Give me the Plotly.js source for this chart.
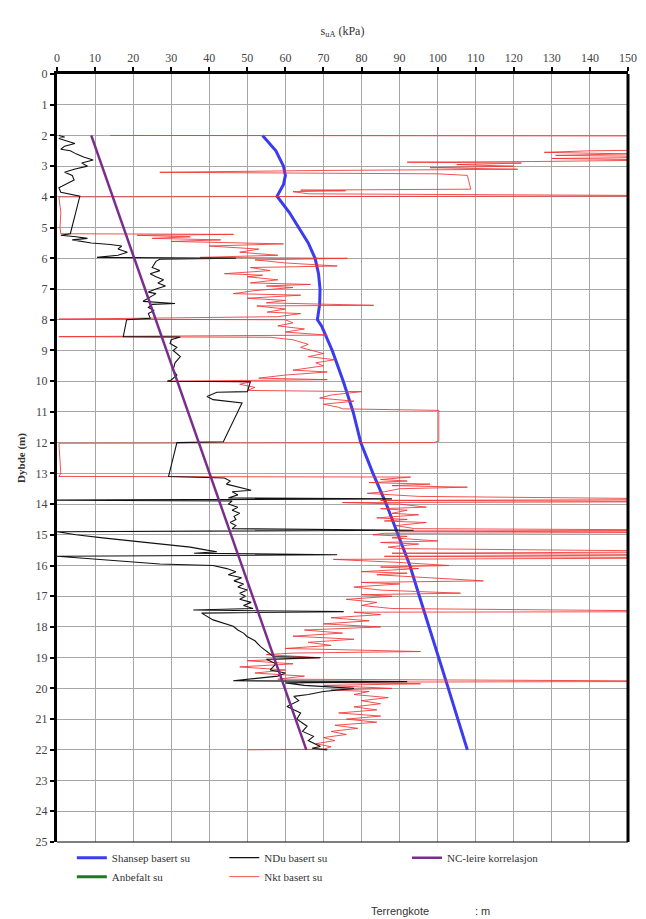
<!DOCTYPE html>
<html>
<head>
<meta charset="utf-8">
<script src="https://cdn.plot.ly/plotly-3.0.1.min.js"></script>
<style>html,body{margin:0;padding:0;background:#fff;}#chart{width:646px;height:919px;}</style>
</head>
<body>
<div id="chart"></div>
<script>
// SHANSEP based su (blue)
const shansepDepth = [2,2.5,3,3.3,3.6,3.98,4.5,5,5.5,6,6.5,7,7.5,8,8.2,9,10,11,12,13,14,15,16,17,18,19,20,21,22];
const shansepSu    = [54,57.5,59.5,60,59.5,57.8,61,63.5,66,67.8,68.7,69.1,69,68.4,69.5,72.3,75.2,77.8,79.8,83,86.5,89.6,92.7,95.2,97.8,100.3,102.8,105.3,107.8];

// NC-leire korrelasjon (purple)
const ncDepth = [2,22];
const ncSu    = [9,65.5];

// Anbefalt su (green) - no values drawn in the reference
const anbefaltDepth = [null];
const anbefaltSu    = [null];

// NDu based su (black)
const nduDepth = [2.0,2.05,2.1,2.2,2.26,2.35,2.45,2.5,2.6,2.7,2.8,2.85,2.9,3.0,3.1,3.2,3.3,3.45,3.6,3.7,3.85,3.98,5.2,5.25,5.3,5.35,5.4,5.5,5.55,5.6,5.7,5.8,5.9,5.97,6.0,6.03,6.1,6.3,6.4,6.5,6.6,6.7,6.8,6.9,7.0,7.1,7.15,7.3,7.4,7.47,7.5,7.6,7.7,7.8,7.95,8.0,8.55,8.56,8.65,8.77,8.9,9.0,9.2,9.4,9.64,9.8,9.96,10.0,10.02,10.34,10.36,10.5,10.6,10.71,11.97,12.0,13.1,13.15,13.25,13.35,13.45,13.55,13.6,13.7,13.8,13.83,13.87,13.9,14.0,14.1,14.2,14.3,14.4,14.5,14.6,14.7,14.8,14.85,14.9,15.0,15.1,15.2,15.3,15.4,15.5,15.55,15.6,15.65,15.7,15.8,15.9,15.95,16.0,16.1,16.2,16.3,16.4,16.5,16.6,16.7,16.8,16.9,17.0,17.1,17.2,17.3,17.4,17.45,17.5,17.55,17.77,17.9,17.98,18.1,18.2,18.31,18.45,18.63,18.8,18.96,19.0,19.05,19.2,19.4,19.5,19.6,19.75,19.78,19.82,19.9,20.0,20.1,20.2,20.26,20.4,20.59,20.8,21.0,21.23,21.4,21.56,21.7,21.89,21.95,22.0];
const nduSu    = [0.5,2,0.5,3,4.7,2,1,3.5,5,7,9.5,8,6.5,8,4.5,2,4,4.5,2,0.5,1,6,3.5,1,5,8,4,9,14,17,16,18.5,16,10.5,47,27,26,25,27,24.5,26,28,26.5,28.5,26,24,26,24,22.6,31,25,24,25.5,24,24.5,18.3,17.4,32.4,30,29.7,31.5,30.5,32.4,31,30.5,31.5,30,29,50.8,50,42,39.4,41,48.6,43.7,31.5,29.3,44,45.5,44.5,48,51,46,47.5,45,88,0,46,45,47.5,46,48,46.5,47,45.5,47,46,93.7,0,5,12,20,27,35,39.4,42,36,73.6,0,10,21,27,41,44.6,47,45,48.5,46.5,49,47.5,50,48,49.5,48,51,49,51.5,35.8,75.3,38,41,44,46.3,47.5,49,49.9,52,53.4,55,56.8,69.2,55,57.5,56,60,58,46.3,92,60,65,78,70,66,62.2,63.5,60.4,64,63,65.7,64.5,67.4,66,69.2,67,71];

// Nkt based su (red)
const nktDepth = [2.0,2.02,2.45,2.5,2.55,2.6,2.65,2.7,2.75,2.8,2.85,2.87,2.9,2.95,3.0,3.05,3.1,3.14,3.2,3.25,3.3,3.75,3.78,3.8,3.83,3.9,3.97,4.0,4.5,5.0,5.2,5.22,5.25,5.3,5.35,5.4,5.45,5.5,5.53,5.6,5.7,5.8,5.9,5.97,6.0,6.05,6.15,6.25,6.3,6.4,6.5,6.55,6.6,6.7,6.8,6.85,6.9,6.95,7.05,7.15,7.2,7.3,7.37,7.45,7.53,7.55,7.65,7.75,7.8,7.9,7.98,8.0,8.1,8.2,8.3,8.4,8.5,8.55,8.57,8.65,8.8,8.9,9.0,9.1,9.2,9.3,9.4,9.5,9.64,9.7,9.8,9.9,9.95,10.0,10.02,10.1,10.2,10.3,10.34,10.45,10.55,10.65,10.75,10.85,10.9,10.95,11.95,12.0,12.02,13.0,13.1,13.12,13.2,13.25,13.3,13.35,13.4,13.45,13.5,13.6,13.65,13.75,13.85,13.88,13.92,13.95,14.0,14.1,14.15,14.2,14.3,14.35,14.45,14.5,14.55,14.6,14.7,14.8,14.85,14.88,14.92,14.95,15.0,15.05,15.1,15.2,15.25,15.3,15.4,15.45,15.55,15.6,15.65,15.7,15.72,15.75,15.8,15.9,16.0,16.05,16.1,16.2,16.25,16.3,16.4,16.5,16.55,16.6,16.7,16.8,16.9,16.95,17.0,17.1,17.2,17.3,17.4,17.5,17.52,17.6,17.7,17.8,17.9,18.0,18.1,18.2,18.3,18.4,18.5,18.6,18.7,18.8,18.85,18.9,19.0,19.1,19.2,19.3,19.4,19.5,19.6,19.7,19.77,19.8,19.85,19.9,20.0,20.05,20.1,20.2,20.3,20.4,20.5,20.6,20.7,20.8,20.9,21.0,21.1,21.2,21.3,21.4,21.5,21.6,21.7,21.8,21.9,21.98,22.0];
const nktSu    = [14,180,175,140,128,150,131,170,130,160,125,92,122,105,120,98,121,70,27,100,107.8,108.7,64,75.8,62,66,180,0.5,1,0.8,1,46.4,21,35,25,43,30,50.8,59.5,40,53,48,58,37.6,76.3,52,60,73.6,50.8,56,44,54,50,58,50.8,66.6,55,62,52,46.3,64,50,60,55,83.2,52.5,60,55.2,64,58,0.5,60,62,58,65,60,71,0.5,56,62,66,64,67,70,66,73,68,70,62,71,60,53,71,29,50.8,48,52,50,80,72,69,78,70,74,75,100.3,100.3,99,0.5,1,0.5,92.9,85,92,82,98,88,107.8,90,86,81.5,95,180,85,180,75,90,97,85,92,88,95,84,92,86,97,89,94,180,90,180,86,83,92,88,100,85,95,87,90,180,88,180,86,116.6,180,72.6,90,103,85,95,80,92,84,98,112,80,90,78,85,106,80,88,76,84,80,88,180,78,85,72,82,70,85,65,75,62,78,66,72,60,95.5,62,55,69,50,62,48,60,52,65,58,180,64,95.5,70,88,72,82,78,87,80,85,78,84,74,85,76,84,73,79,72,76,70,73,68,72,70,50];

const xTicks = [0,10,20,30,40,50,60,70,80,90,100,110,120,130,140,150];
const yTicks = [0,1,2,3,4,5,6,7,8,9,10,11,12,13,14,15,16,17,18,19,20,21,22,23,24,25];

const serif = "'Liberation Serif', 'Times New Roman', Times, serif";
const sans = "'Liberation Sans', Arial, sans-serif";

const traces = [
  {x: shansepSu, y: shansepDepth, mode:'lines', name:'Shansep basert su', legend:'legend',
   line:{color:'#3b3bf0', width:3}},
  {x: anbefaltSu, y: anbefaltDepth, mode:'lines', name:'Anbefalt su', legend:'legend',
   line:{color:'#1e7a1e', width:3}, connectgaps:false},
  {x: nktSu, y: nktDepth, mode:'lines', name:'Nkt basert su', legend:'legend2',
   line:{color:'rgba(240,50,50,0.85)', width:1}},
  {x: nduSu, y: nduDepth, mode:'lines', name:'NDu basert su', legend:'legend2',
   line:{color:'#111', width:1.1}},
  {x: ncSu, y: ncDepth, mode:'lines', name:'NC-leire korrelasjon', legend:'legend3',
   line:{color:'#7a2e8c', width:2.5}}
];

const legendBase = {orientation:'v', yanchor:'top', y:-0.0015, xanchor:'left',
  font:{family:serif, size:11, color:'#333'}, bgcolor:'rgba(0,0,0,0)', tracegroupgap:0, traceorder:'normal'};

const layout = {
  width:646, height:919,
  margin:{l:57, r:18, t:74, b:77},
  paper_bgcolor:'#fff', plot_bgcolor:'#fff',
  showlegend:true,
  font:{family:serif},
  xaxis:{
    side:'top', range:[0,150], tickvals:xTicks, ticktext:xTicks.map(String),
    showgrid:true, gridcolor:'#a6a6a6', gridwidth:1,
    showline:true, linecolor:'#000', linewidth:3,
    ticks:'outside', ticklen:4, tickwidth:2, tickcolor:'#000',
    tickfont:{family:serif, size:12, color:'#444'},
    zeroline:false,
    title:{text:'s<sub>uA</sub> (kPa)', font:{family:serif, size:12, color:'#333'}, standoff:14}
  },
  yaxis:{
    range:[25,0], tickvals:yTicks, ticktext:yTicks.map(String),
    showgrid:true, gridcolor:'#a6a6a6', gridwidth:1,
    showline:true, linecolor:'#000', linewidth:3,
    ticks:'outside', ticklen:4, tickwidth:2, tickcolor:'#000',
    tickfont:{family:serif, size:12, color:'#444'},
    zeroline:false,
    title:{text:'<b>Dybde (m)</b>', font:{family:serif, size:11, color:'#333'}, standoff:8}
  },
  legend: Object.assign({}, legendBase, {x:0.026}),
  legend2: Object.assign({}, legendBase, {x:0.293, traceorder:'reversed'}),
  legend3: Object.assign({}, legendBase, {x:0.613}),
  shapes:[
    {type:'line', xref:'paper', yref:'paper', x0:1, x1:1, y0:0, y1:1, line:{color:'#000', width:3}},
    {type:'line', xref:'paper', yref:'paper', x0:0, x1:1, y0:0, y1:0, line:{color:'#000', width:1.2}}
  ],
  annotations:[
    {text:'Terrengkote', xref:'paper', yref:'paper', x:0.601, y:-0.0895, xanchor:'center', yanchor:'middle',
     showarrow:false, font:{family:sans, size:11, color:'#333'}},
    {text:': m', xref:'paper', yref:'paper', x:0.746, y:-0.0895, xanchor:'center', yanchor:'middle',
     showarrow:false, font:{family:sans, size:11, color:'#333'}}
  ]
};

Plotly.newPlot('chart', traces, layout, {displayModeBar:false, staticPlot:true});
</script>
</body>
</html>
